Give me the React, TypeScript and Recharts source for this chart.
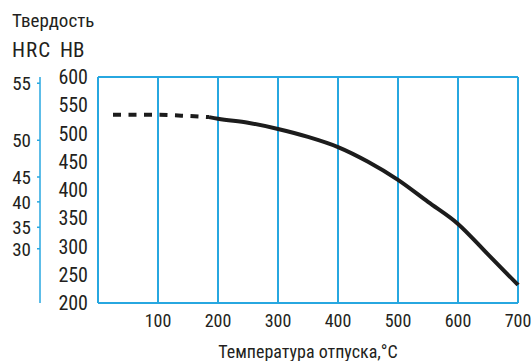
import React from 'react';
import { LineChart, Line, XAxis, YAxis, CartesianGrid, Label } from 'recharts';

const temperatures = [25, 100, 150, 185, 200, 250, 300, 350, 400, 450, 500, 550, 600, 650, 700];
const dashedHB: (number | null)[] = [533, 533, 531, 529, null, null, null, null, null, null, null, null, null, null, null];
const solidHB: (number | null)[] = [null, null, null, 529, 526, 519, 508, 494, 476, 450, 418, 379, 340, 286, 232];

const xTicks = [0, 100, 200, 300, 400, 500, 600, 700];
const hbTicks = [200, 250, 300, 350, 400, 450, 500, 550, 600];
const hrcLabels = ['55', '50', '45', '40', '35', '30'];
const hrcAtHB = [589, 488, 423, 379, 334, 296];

const data = temperatures.map((t, i) => ({ t, dashed: dashedHB[i], solid: solidHB[i] }));

const FONT = "'Liberation Sans Narrow', 'Arial Narrow', 'Roboto Condensed', 'Liberation Sans', Arial, sans-serif";
const BLUE = '#27a7e0';
const TEXT = '#231f20';

const hrcFormat = (v: number) => {
  const i = hrcAtHB.findIndex((h) => Math.abs(h - Number(v)) < 0.5);
  return i >= 0 ? hrcLabels[i] : '';
};

export default function App() {
  return (
    <div style={{ position: 'absolute', left: 0, top: 0, width: 531, height: 361, background: '#fff', fontFamily: FONT }}>
      <div style={{ position: 'absolute', left: 12, top: 10, fontSize: 19, color: TEXT, lineHeight: '22px' }}>Твердость</div>
      <div style={{ position: 'absolute', left: 12, top: 39, fontSize: 21, color: TEXT, lineHeight: '22px', letterSpacing: 1 }}>HRC</div>
      <div style={{ position: 'absolute', left: 60, top: 39, fontSize: 21, color: TEXT, lineHeight: '22px' }}>HB</div>
      <LineChart
        width={531}
        height={361}
        data={data}
        margin={{ top: 77, right: 13, bottom: 0, left: 0 }}
        style={{ fontFamily: FONT }}
      >
        <CartesianGrid stroke={BLUE} strokeWidth={2} />
        <XAxis
          dataKey="t"
          type="number"
          domain={[0, 700]}
          ticks={xTicks}
          tickFormatter={(v: number) => (v === 0 ? '' : String(v))}
          height={58}
          tickLine={false}
          tickSize={0}
          tickMargin={11}
          axisLine={{ stroke: BLUE, strokeWidth: 2 }}
          tick={{ fill: TEXT, fontSize: 18 }}
          interval={0}
        >
          <Label value="Температура отпуска,°C" position="insideBottom" offset={3} fill={TEXT} fontSize={18} />
        </XAxis>
        <YAxis
          yAxisId="hb"
          type="number"
          domain={[200, 600]}
          ticks={hbTicks}
          width={58}
          tickLine={false}
          tickSize={0}
          tickMargin={10}
          axisLine={{ stroke: BLUE, strokeWidth: 2 }}
          tick={{ fill: TEXT, fontSize: 20 }}
          interval={0}
        />
        <YAxis
          yAxisId="hrc"
          type="number"
          domain={[200, 600]}
          allowDataOverflow
          ticks={hrcAtHB}
          tickFormatter={hrcFormat}
          width={40}
          tickLine={{ stroke: BLUE, strokeWidth: 1.5 }}
          tickSize={3}
          tickMargin={6}
          axisLine={{ stroke: BLUE, strokeWidth: 1.5 }}
          tick={{ fill: TEXT, fontSize: 19 }}
          interval={0}
        />
        <Line
          yAxisId="hrc"
          dataKey="solid"
          type="monotone"
          stroke="none"
          strokeWidth={0}
          dot={false}
          activeDot={false}
          legendType="none"
          isAnimationActive={false}
        />
        <Line
          yAxisId="hb"
          dataKey="dashed"
          type="monotone"
          stroke="#1c1c1c"
          strokeWidth={4}
          strokeDasharray="8 7.5"
          dot={false}
          isAnimationActive={false}
        />
        <Line
          yAxisId="hb"
          dataKey="solid"
          type="monotone"
          stroke="#1c1c1c"
          strokeWidth={4}
          dot={false}
          isAnimationActive={false}
        />
      </LineChart>
    </div>
  );
}
